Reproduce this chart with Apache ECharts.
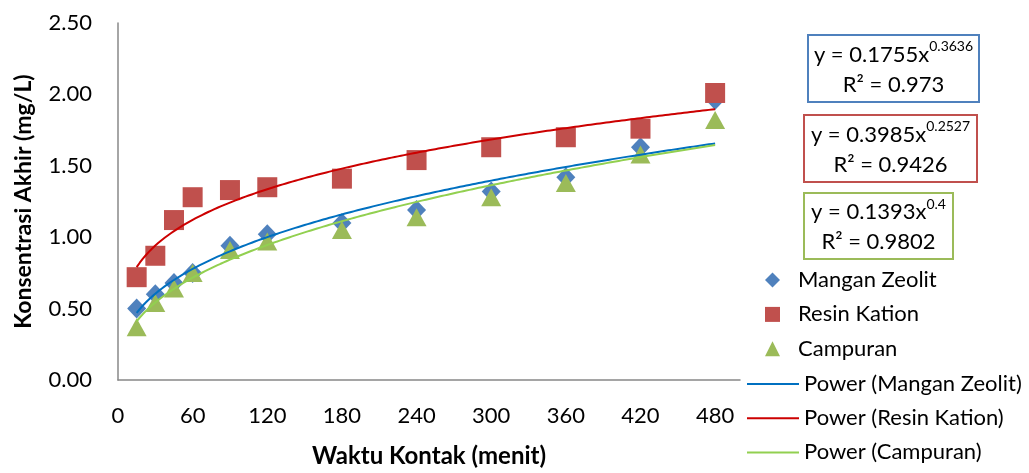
<!DOCTYPE html>
<html>
<head>
<meta charset="utf-8">
<script src="https://cdn.jsdelivr.net/npm/echarts@6/dist/echarts.min.js"></script>
<style>
  html, body { margin: 0; padding: 0; background: #fff; }
  #chart { width: 1029px; height: 473px; }
</style>
</head>
<body>
<div id="chart"></div>
<script>
// Contact time (minutes)
const waktu = [15, 30, 45, 60, 90, 120, 180, 240, 300, 360, 420, 480];

// Final concentration (mg/L) per adsorbent
const manganZeolit = [0.50, 0.60, 0.68, 0.75, 0.94, 1.02, 1.10, 1.19, 1.32, 1.42, 1.63, 1.96];
const resinKation  = [0.72, 0.87, 1.12, 1.28, 1.33, 1.35, 1.41, 1.54, 1.63, 1.70, 1.76, 2.01];
const campuran     = [0.37, 0.54, 0.64, 0.75, 0.91, 0.97, 1.05, 1.14, 1.28, 1.38, 1.58, 1.82];

// Power-law fits y = a * x^b and their R²
const fitA  = [0.1755, 0.3985, 0.1393];
const fitB  = [0.3636, 0.2527, 0.4];
const fitR2 = ['0.973', '0.9426', '0.9802'];

const seriesNames = ['Mangan Zeolit', 'Resin Kation', 'Campuran'];
const trendNames = ['Power (Mangan Zeolit)', 'Power (Resin Kation)', 'Power (Campuran)'];

const markerColors = ['#4F81BD', '#C0504D', '#9BBB59'];
const lineColors = ['#0070C0', '#CC0000', '#92D050'];

const FONT = 'Lato, sans-serif';

function pairs(ys) { return waktu.map((x, i) => [x, ys[i]]); }

// Fitted curve y = a*x^b, traced across the measured time range
function trend(k) {
  const pts = [];
  const x0 = waktu[0], x1 = waktu[waktu.length - 1];
  for (let x = x0; x <= x1; x += 2.5) pts.push([x, fitA[k] * Math.pow(x, fitB[k])]);
  return pts;
}

const chart = echarts.init(document.getElementById('chart'));

// Equation boxes drawn beside the plot
const boxes = [
  { x: 807, y: 34, w: 171, h: 67 },
  { x: 803, y: 114, w: 173, h: 67 },
  { x: 803, y: 192, w: 149, h: 66 }
];
const graphics = boxes.map((b, k) => ({
  type: 'group',
  left: b.x, top: b.y,
  children: [
    { type: 'rect', shape: { x: 0, y: 0, width: b.w, height: b.h },
      style: { fill: '#fff', stroke: markerColors[k], lineWidth: 2 } },
    { type: 'text', x: b.w / 2, y: b.h / 2 + 1,
      style: {
        text: '{b|y = ' + fitA[k] + 'x}{s|' + fitB[k] + '}\n{b|R² = ' + fitR2[k] + '}',
        align: 'center', verticalAlign: 'middle',
        fill: '#000', font: '22px ' + FONT,
        rich: {
          b: { fontSize: 22, fontFamily: FONT, lineHeight: 30, fill: '#000' },
          s: { fontSize: 14, fontFamily: FONT, lineHeight: 30, fill: '#000', verticalAlign: 'top', padding: [0, 0, 8, 0] }
        }
      } }
  ]
}));

chart.setOption({
  animation: false,
  backgroundColor: '#fff',
  grid: { left: 118, top: 23, right: 289, bottom: 90, containLabel: false },
  xAxis: {
    type: 'value', min: 0, max: 500, interval: 60,
    name: 'Waktu Kontak (menit)', nameLocation: 'middle', nameGap: 64,
    nameTextStyle: { fontFamily: FONT, fontSize: 24, fontWeight: 'bold', color: '#000' },
    axisLine: { show: true, lineStyle: { color: '#888', width: 1.5 } },
    axisTick: { show: false },
    splitLine: { show: false },
    axisLabel: { showMaxLabel: false, margin: 25, fontFamily: FONT, fontSize: 22, color: '#000' }
  },
  yAxis: {
    type: 'value', min: 0, max: 2.5, interval: 0.5,
    name: 'Konsentrasi Akhir (mg/L)', nameLocation: 'middle', nameGap: 83,
    nameTextStyle: { fontFamily: FONT, fontSize: 23, fontWeight: 'bold', color: '#000' },
    axisLine: { show: true, lineStyle: { color: '#888', width: 1.5 } },
    axisTick: { show: false },
    splitLine: { show: false },
    axisLabel: { margin: 26, fontFamily: FONT, fontSize: 22, color: '#000',
      formatter: v => v.toFixed(2) }
  },
  legend: [
    {
      data: [
        { name: seriesNames[0], icon: 'diamond' },
        { name: seriesNames[1], icon: 'rect' },
        { name: seriesNames[2], icon: 'triangle' }
      ],
      orient: 'vertical', left: 760, top: 264, itemWidth: 15, itemHeight: 15, itemGap: 12.4,
      itemStyle: { opacity: 1 },
      textStyle: { fontFamily: FONT, fontSize: 22, color: '#000', lineHeight: 22, padding: [0, 0, 0, 13] },
      selectedMode: false
    },
    {
      data: trendNames.map(n => ({ name: n, icon: 'rect' })),
      orient: 'vertical', left: 742, top: 368, itemWidth: 52, itemHeight: 2, itemGap: 12.2,
      textStyle: { fontFamily: FONT, fontSize: 22, color: '#000', lineHeight: 22 },
      selectedMode: false
    }
  ],
  graphic: graphics,
  series: [
    { type: 'scatter', name: seriesNames[0], data: pairs(manganZeolit), symbol: 'diamond', symbolSize: [19, 20],
      itemStyle: { color: markerColors[0], opacity: 1 } },
    { type: 'scatter', name: seriesNames[1], data: pairs(resinKation), symbol: 'rect', symbolSize: 20,
      itemStyle: { color: markerColors[1], opacity: 1 } },
    { type: 'scatter', name: seriesNames[2], data: pairs(campuran), symbol: 'triangle', symbolSize: [20, 18],
      itemStyle: { color: markerColors[2], opacity: 1 } },
    { type: 'line', name: trendNames[0], data: trend(0), symbol: 'none',
      lineStyle: { color: lineColors[0], width: 2 }, itemStyle: { color: lineColors[0] } },
    { type: 'line', name: trendNames[1], data: trend(1), symbol: 'none',
      lineStyle: { color: lineColors[1], width: 2 }, itemStyle: { color: lineColors[1] } },
    { type: 'line', name: trendNames[2], data: trend(2), symbol: 'none',
      lineStyle: { color: lineColors[2], width: 2 }, itemStyle: { color: lineColors[2] } }
  ]
});
</script>
</body>
</html>
